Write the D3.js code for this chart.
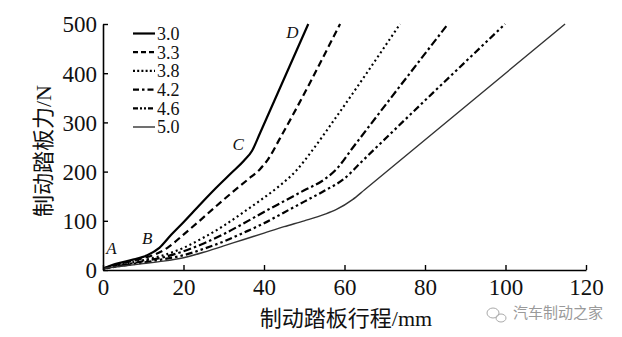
<!DOCTYPE html>
<html>
<head>
<meta charset="utf-8">
<script src="https://cdn.jsdelivr.net/npm/d3@7"></script>
<style>
  html, body { margin: 0; padding: 0; background: #fff; }
  svg { display: block; }
  text { font-family: "Liberation Serif", "Noto Sans CJK SC", serif; fill: #111; }
</style>
</head>
<body>
<svg id="chart" width="622" height="337"></svg>
<script>
// ---- data ----
const seriesNames = ["3.0", "3.3", "3.8", "4.2", "4.6", "5.0"];

const travel30 = [0, 3, 7, 11, 14, 17, 20, 24, 28, 32, 35, 37, 39, 51];
const force30  = [3, 12, 20, 30, 45, 72, 97, 132, 166, 198, 222, 242, 278, 500];

const travel33 = [0, 4, 9, 13, 16, 20, 24, 28, 32, 36, 39, 41, 44, 58.9];
const force33  = [3, 12, 22, 32, 45, 72, 100, 129, 157, 184, 205, 225, 268, 500];

const travel38 = [0, 5, 10, 15, 20, 25, 30, 35, 40, 44, 48, 52, 57, 73.8];
const force38  = [3, 12, 20, 30, 45, 66, 90, 118, 147, 172, 202, 243, 300, 500];

const travel42 = [0, 5, 10, 15, 20, 25, 30, 35, 40, 45, 50, 55, 58, 62, 85.7];
const force42  = [3, 10, 18, 26, 38, 54, 73, 95, 118, 140, 162, 184, 205, 248, 500];

const travel46 = [0, 5, 10, 15, 20, 25, 30, 35, 40, 45, 50, 55, 60, 64, 99.9];
const force46  = [3, 9, 15, 22, 30, 43, 58, 76, 95, 117, 139, 161, 186, 218, 500];

const travel50 = [0, 5, 10, 15, 20, 25, 30, 35, 40, 45, 50, 55, 58, 62, 65, 114.8];
const force50  = [3, 8, 13, 18, 25, 36, 49, 62, 75, 88, 100, 113, 123, 143, 163, 500];

const xTicks = [0, 20, 40, 60, 80, 100, 120];
const yTicks = [0, 100, 200, 300, 400, 500];

const pointLabels = ["A", "B", "C", "D"];
const pointLabelTravel = [0.8, 9.7, 32.2, 45.5];
const pointLabelForce  = [32, 52, 244, 472];

const xTitle = "制动踏板行程/mm";
const yTitle = "制动踏板力/N";
const watermark = "汽车制动之家";

// ---- build ----
const travels = [travel30, travel33, travel38, travel42, travel46, travel50];
const forces  = [force30, force33, force38, force42, force46, force50];
const series = seriesNames.map((name, i) => ({
  name,
  pts: travels[i].map((t, j) => [t, forces[i][j]])
}));

const styles = [
  { w: 2.2, dash: null, color: "#000", legendDash: null },
  { w: 2.2, dash: "7,4", color: "#000", legendDash: "5,3" },
  { w: 2.1, dash: "2,3", color: "#000", legendDash: "2,2.2" },
  { w: 2.2, dash: "8,3,2.5,3", color: "#000", legendDash: "6,3,2.5,3" },
  { w: 2.2, dash: "7,3,2.5,3,2.5,3", color: "#000", legendDash: "5,2,2,2,2,2" },
  { w: 1.4, dash: null, color: "#333", legendDash: null }
];

const svg = d3.select("#chart");
const x = d3.scaleLinear().domain([0, 120]).range([103, 586]);
const y = d3.scaleLinear().domain([0, 500]).range([270, 24]);

const line = d3.line()
  .x(d => x(d[0]))
  .y(d => y(d[1]))
  .curve(d3.curveMonotoneX);

svg.append("defs").append("clipPath").attr("id", "clip")
  .append("rect").attr("x", 103).attr("y", 23).attr("width", 490).attr("height", 248);

const gLines = svg.append("g").attr("clip-path", "url(#clip)");
series.forEach((s, i) => {
  gLines.append("path")
    .attr("d", line(s.pts))
    .attr("fill", "none")
    .attr("stroke", styles[i].color)
    .attr("stroke-width", styles[i].w)
    .attr("stroke-dasharray", styles[i].dash)
    .attr("stroke-linejoin", "round");
});

// axes
const xAxis = svg.append("g")
  .attr("transform", `translate(0,${y(0)})`)
  .call(d3.axisBottom(x).tickValues(xTicks).tickSizeInner(-5).tickSizeOuter(0).tickPadding(9));
const yAxis = svg.append("g")
  .attr("transform", `translate(${x(0)},0)`)
  .call(d3.axisLeft(y).tickValues(yTicks).tickSizeInner(-5).tickSizeOuter(0).tickPadding(6));

[xAxis, yAxis].forEach(g => {
  g.select(".domain").attr("stroke", "#000").attr("stroke-width", 1.6);
  g.selectAll(".tick line").attr("stroke", "#000").attr("stroke-width", 1.4);
  g.selectAll(".tick text")
    .attr("fill", "#111")
    .style("font-family", "'Liberation Serif', serif")
    .style("font-size", "23px");
});
xAxis.selectAll(".tick text").attr("dy", "0.71em");
yAxis.selectAll(".tick text").attr("dy", "0.34em");

// axis titles
svg.append("text")
  .attr("x", 346).attr("y", 326)
  .attr("text-anchor", "middle")
  .style("font-size", "22px")
  .text(xTitle);

svg.append("text")
  .attr("transform", "translate(51,151) rotate(-90)")
  .attr("text-anchor", "middle")
  .style("font-size", "22px")
  .text(yTitle);

// point labels
pointLabels.forEach((lab, i) => {
  svg.append("text")
    .attr("x", x(pointLabelTravel[i]))
    .attr("y", y(pointLabelForce[i]))
    .style("font-size", "17px")
    .style("font-style", "italic")
    .style("font-family", "'Liberation Serif', serif")
    .text(lab);
});

// legend
const legend = svg.append("g");
seriesNames.forEach((name, i) => {
  const ly = 33.5 + i * 18.7;
  legend.append("line")
    .attr("x1", 133).attr("x2", 155)
    .attr("y1", ly).attr("y2", ly)
    .attr("stroke", styles[i].color)
    .attr("stroke-width", styles[i].w)
    .attr("stroke-dasharray", styles[i].legendDash);
  legend.append("text")
    .attr("x", 157).attr("y", ly)
    .attr("dy", "0.35em")
    .style("font-size", "18px")
    .style("font-family", "'Liberation Serif', serif")
    .text(name);
});

// watermark
const wm = svg.append("g").attr("fill", "none").attr("stroke", "#aaa").attr("stroke-width", 1);
wm.append("ellipse").attr("cx", 493).attr("cy", 313).attr("rx", 6).attr("ry", 5);
wm.append("ellipse").attr("cx", 501).attr("cy", 318).attr("rx", 5).attr("ry", 4);
svg.append("text")
  .attr("x", 513).attr("y", 318)
  .style("font-family", "'Noto Sans CJK SC', sans-serif")
  .style("font-size", "15px")
  .style("fill", "#9a9a9a")
  .text(watermark);
</script>
</body>
</html>
